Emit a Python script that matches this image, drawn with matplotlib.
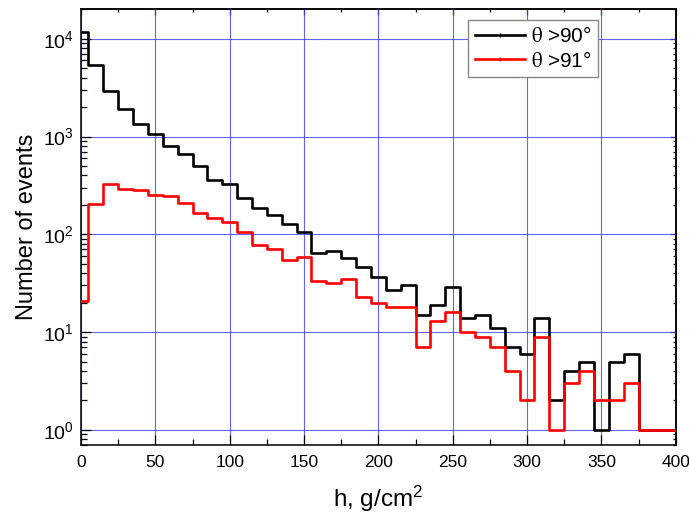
import numpy as np
import matplotlib
matplotlib.use('Agg')
import matplotlib.pyplot as plt
from matplotlib.lines import Line2D
from matplotlib.ticker import MultipleLocator, LogLocator, NullFormatter, FixedLocator

plt.rcParams['font.family'] = ['Liberation Sans', 'DejaVu Sans']
plt.rcParams['mathtext.fontset'] = 'stix'

# bin centres (g/cm^2), 10 wide
h = np.arange(0, 401, 10)

# counts
n_90 = [11800, 5400, 2900, 1930, 1350, 1070, 800, 655, 495, 356,
        330, 233, 187, 159, 126, 105, 64, 68, 57, 46,
        37, 27, 30, 15, 19, 29, 14, 15, 11, 7,
        6, 14, 2, 4, 5, 1, 5, 6, 1, 1, 1]
n_91 = [21, 206, 329, 290, 286, 252, 244, 209, 165, 148,
        133, 106, 77, 70, 55, 58, 33, 32, 35, 23,
        20, 18, 18, 7, 13, 16, 10, 9, 7, 4,
        2, 9, 1, 3, 4, 2, 2, 3, 1, 1, 1]

labels = [r'$\mathrm{\theta}$ >90°', r'$\mathrm{\theta}$ >91°']
colors = ['black', '#ff0000']

fig = plt.figure(figsize=(6.89, 5.14), dpi=100)
ax = fig.add_axes([81/689, 1-445/514, 594.7/689, 435.7/514])

ax.step(h, n_90, where='mid', color=colors[0], lw=1.9, zorder=3)
ax.step(h, n_91, where='mid', color=colors[1], lw=1.9, zorder=4)

ax.set_yscale('log')
ax.set_xlim(0, 400)
ax.set_ylim(0.7, 2e4)

ax.xaxis.set_major_locator(MultipleLocator(50))
ax.xaxis.set_minor_locator(MultipleLocator(25))
ax.yaxis.set_major_locator(FixedLocator([1, 10, 100, 1000, 10000]))
ax.yaxis.set_minor_locator(LogLocator(base=10, subs=np.arange(2, 10)))
ax.yaxis.set_minor_formatter(NullFormatter())
ax.set_yticklabels([r'$\mathregular{10^{%d}}$' % i for i in range(5)])

ax.grid(True, which='major', color='#4848ff', lw=0.8, alpha=0.85, zorder=0)
ax.tick_params(which='both', direction='in', width=0.9)
ax.tick_params(which='major', length=7)
ax.tick_params(which='minor', length=4)
ax.tick_params(axis='x', pad=7, labelsize=12.5)
ax.tick_params(axis='y', pad=5, labelsize=14)
for s in ax.spines.values():
    s.set_linewidth(1.1)

# shorter ticks on top and right
top = ax.secondary_xaxis('top')
top.xaxis.set_major_locator(MultipleLocator(50))
top.xaxis.set_minor_locator(MultipleLocator(25))
top.tick_params(which='both', direction='in', labeltop=False, width=0.9)
top.tick_params(which='major', length=4)
top.tick_params(which='minor', length=2.5)
right = ax.secondary_yaxis('right')
right.yaxis.set_major_locator(FixedLocator([1, 10, 100, 1000, 10000]))
right.yaxis.set_minor_locator(LogLocator(base=10, subs=np.arange(2, 10)))
right.tick_params(which='both', direction='in', labelright=False, width=0.9)
right.tick_params(which='major', length=4.5)
right.tick_params(which='minor', length=2.5)
for sa in (top, right):
    for s in sa.spines.values():
        s.set_linewidth(1.1)

ax.set_xlabel(r'h, g/cm$\mathregular{^2}$', fontsize=17.5, labelpad=10)
ax.set_ylabel('Number of events', fontsize=17, labelpad=4)

handles = [Line2D([], [], color=c, lw=1.9, marker='|', markersize=3, markeredgewidth=1)
           for c in colors]
leg = ax.legend(handles, labels, loc='upper right', bbox_to_anchor=(0.869, 0.975),
                borderaxespad=0, fontsize=15, fancybox=False, framealpha=1,
                edgecolor='#888888', handlelength=2.4, handletextpad=0.3,
                labelspacing=0.2, borderpad=0.3)
leg.get_frame().set_linewidth(1.0)

fig.savefig('out.png', dpi=100)
